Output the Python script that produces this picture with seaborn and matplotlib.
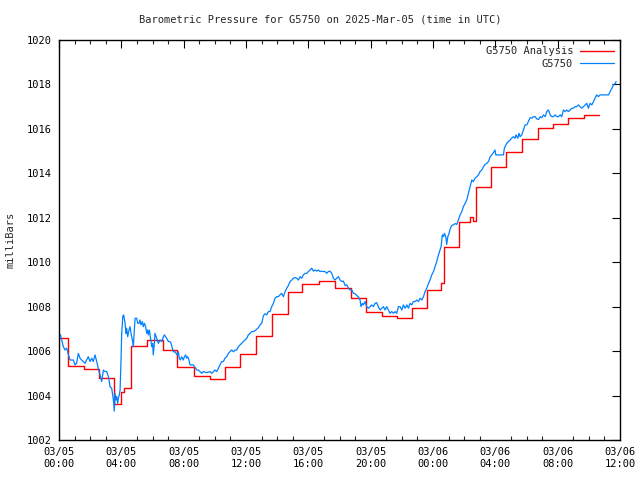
import matplotlib
matplotlib.use("Agg")
import matplotlib.pyplot as plt
import seaborn as sns
import pandas as pd

title = "Barometric Pressure for G5750 on 2025-Mar-05 (time in UTC)"
ylabel = "milliBars"
series_names = ["G5750 Analysis", "G5750"]

# x in hours since 03/05 00:00 UTC
tick_hours = [0, 4, 8, 12, 16, 20, 24, 28, 32, 36]
tick_labels = ["03/05\n00:00", "03/05\n04:00", "03/05\n08:00", "03/05\n12:00",
               "03/05\n16:00", "03/05\n20:00", "03/06\n00:00", "03/06\n04:00",
               "03/06\n08:00", "03/06\n12:00"]
y_ticks = [1002, 1004, 1006, 1008, 1010, 1012, 1014, 1016, 1018, 1020]

# Analysis (step) series
red_hours = [0.0, 0.56, 1.63, 2.59, 3.55, 3.98, 4.2, 4.62, 5.62, 6.7, 7.6, 8.68, 9.69,
             10.65, 11.62, 12.62, 13.65, 14.72, 15.6, 16.69, 17.71, 18.72, 19.71,
             20.71, 21.67, 22.64, 23.64, 24.5, 24.7, 25.69, 26.35, 26.55, 26.77,
             27.73, 28.69, 29.7, 30.76, 31.73, 32.69, 33.72, 34.68]
red_values = [1006.58, 1005.33, 1005.2, 1004.78, 1003.62, 1004.15, 1004.33, 1006.22,
              1006.49, 1006.04, 1005.27, 1004.88, 1004.73, 1005.27, 1005.86, 1006.67,
              1007.66, 1008.65, 1009.02, 1009.14, 1008.83, 1008.38, 1007.75, 1007.58,
              1007.5, 1007.93, 1008.75, 1009.05, 1010.69, 1011.8, 1012.05, 1011.85,
              1013.37, 1014.3, 1014.94, 1015.53, 1016.03, 1016.22, 1016.47, 1016.62,
              1016.62]

# Observed series
blue_hours = [
    0.00, 0.10, 0.17, 0.28, 0.39, 0.49, 0.56, 0.60, 0.71, 0.92, 1.03, 1.13, 1.24, 1.35,
    1.45, 1.56, 1.67, 1.77, 1.88, 1.99, 2.10, 2.20, 2.31, 2.42, 2.52, 2.63, 2.74, 2.85,
    2.95, 3.06, 3.17, 3.23, 3.27, 3.38, 3.49, 3.55, 3.59, 3.66, 3.70, 3.77, 3.81, 3.87,
    3.92, 3.98, 4.02, 4.09, 4.15, 4.24, 4.30, 4.34, 4.41, 4.49, 4.56, 4.62, 4.71, 4.77,
    4.81, 4.88, 4.99, 5.05, 5.13, 5.20, 5.26, 5.35, 5.41, 5.48, 5.56, 5.63, 5.69, 5.73,
    5.80, 5.86, 5.95, 6.01, 6.05, 6.12, 6.16, 6.27, 6.38, 6.48, 6.59, 6.70, 6.76, 6.91,
    7.02, 7.12, 7.19, 7.27, 7.34, 7.45, 7.51, 7.57, 7.66, 7.72, 7.79, 7.87, 7.98, 8.05,
    8.13, 8.19, 8.26, 8.34, 8.41, 8.62, 8.69, 8.77, 8.84, 8.94, 9.05, 9.16, 9.26, 9.48,
    9.69, 9.80, 9.91, 10.01, 10.12, 10.23, 10.33, 10.44, 10.55, 10.65, 10.76, 10.87,
    10.97, 11.08, 11.19, 11.30, 11.40, 11.51, 11.62, 11.72, 11.83, 11.94, 12.05, 12.15,
    12.26, 12.37, 12.47, 12.58, 12.79, 12.90, 13.01, 13.12, 13.22, 13.33, 13.44, 13.54,
    13.65, 13.76, 13.86, 13.97, 14.08, 14.18, 14.29, 14.40, 14.51, 14.61, 14.68, 14.83,
    14.94, 15.04, 15.15, 15.26, 15.36, 15.47, 15.58, 15.68, 15.79, 15.90, 16.00, 16.11,
    16.22, 16.33, 16.43, 16.54, 16.65, 16.75, 16.86, 16.97, 17.07, 17.18, 17.29, 17.39,
    17.50, 17.61, 17.71, 17.82, 17.93, 18.04, 18.14, 18.25, 18.36, 18.47, 18.57, 18.68,
    18.79, 18.89, 19.00, 19.11, 19.21, 19.32, 19.38, 19.47, 19.53, 19.64, 19.74, 19.86,
    19.96, 20.07, 20.17, 20.28, 20.39, 20.49, 20.60, 20.71, 20.82, 20.92, 21.03, 21.14,
    21.24, 21.35, 21.46, 21.57, 21.67, 21.78, 21.89, 22.00, 22.10, 22.21, 22.32, 22.42,
    22.53, 22.64, 22.74, 22.85, 22.96, 23.07, 23.17, 23.28, 23.39, 23.49, 23.60, 23.71,
    23.81, 23.92, 24.03, 24.13, 24.24, 24.35, 24.45, 24.52, 24.60, 24.67, 24.73, 24.82,
    24.88, 24.95, 25.03, 25.10, 25.20, 25.31, 25.42, 25.52, 25.63, 25.74, 25.85, 25.95,
    26.06, 26.17, 26.27, 26.38, 26.49, 26.59, 26.70, 26.81, 26.92, 27.02, 27.13, 27.24,
    27.34, 27.45, 27.56, 27.67, 27.77, 27.88, 27.98, 28.03, 28.52, 28.58, 28.73, 28.84,
    28.95, 29.05, 29.16, 29.27, 29.33, 29.44, 29.52, 29.59, 29.70, 29.80, 29.91, 30.02,
    30.12, 30.23, 30.34, 30.45, 30.55, 30.66, 30.77, 30.88, 30.98, 31.09, 31.20, 31.30,
    31.41, 31.52, 31.62, 31.73, 31.84, 31.94, 32.05, 32.16, 32.26, 32.37, 32.48, 32.58,
    32.69, 32.80, 32.91, 33.01, 33.12, 33.23, 33.33, 33.44, 33.55, 33.65, 33.76, 33.87,
    33.97, 34.08, 34.19, 34.30, 34.40, 34.51, 34.62, 34.72, 35.26, 35.37, 35.48, 35.58,
    35.69, 35.75]
blue_values = [
    1006.73, 1006.73, 1006.50, 1006.20, 1006.05, 1006.13, 1005.97, 1005.83, 1005.60,
    1005.60, 1005.38, 1005.45, 1005.90, 1005.68, 1005.60, 1005.53, 1005.45, 1005.60,
    1005.75, 1005.53, 1005.68, 1005.53, 1005.83, 1005.53, 1005.23, 1004.93, 1004.63,
    1005.15, 1005.08, 1005.08, 1004.85, 1004.63, 1004.40, 1004.33, 1003.80, 1003.30,
    1004.10, 1003.80, 1003.95, 1003.65, 1003.88, 1004.03, 1004.25, 1005.60, 1006.73,
    1007.55, 1007.63, 1007.25, 1006.80, 1007.03, 1006.65, 1006.95, 1007.10, 1006.80,
    1006.50, 1006.20, 1006.65, 1007.48, 1007.48, 1007.25, 1007.25, 1007.40, 1007.18,
    1007.33, 1007.10, 1007.25, 1007.10, 1006.80, 1006.95, 1006.73, 1006.95, 1006.65,
    1006.20, 1006.35, 1005.83, 1006.35, 1006.80, 1006.58, 1006.35, 1006.50, 1006.43,
    1006.65, 1006.73, 1006.58, 1006.43, 1006.43, 1006.35, 1006.13, 1005.97, 1005.97,
    1005.90, 1005.83, 1005.97, 1005.68, 1005.60, 1005.75, 1005.60, 1005.75, 1005.83,
    1005.68, 1005.75, 1005.60, 1005.38, 1005.38, 1005.30, 1005.23, 1005.15, 1005.15,
    1005.08, 1005.00, 1005.08, 1005.03, 1005.08, 1005.00, 1005.08, 1005.15, 1005.08,
    1005.23, 1005.38, 1005.53, 1005.53, 1005.68, 1005.75, 1005.90, 1005.97, 1006.05,
    1005.97, 1006.05, 1006.05, 1006.20, 1006.28, 1006.35, 1006.43, 1006.50, 1006.58,
    1006.73, 1006.80, 1006.88, 1006.88, 1006.92, 1007.05, 1007.18, 1007.25, 1007.60,
    1007.68, 1007.63, 1007.78, 1007.78, 1008.00, 1008.15, 1008.38, 1008.45, 1008.45,
    1008.53, 1008.60, 1008.45, 1008.68, 1008.83, 1008.90, 1009.13, 1009.20, 1009.28,
    1009.31, 1009.28, 1009.20, 1009.35, 1009.28, 1009.43, 1009.50, 1009.50, 1009.58,
    1009.65, 1009.73, 1009.60, 1009.65, 1009.60, 1009.65, 1009.58, 1009.60, 1009.58,
    1009.58, 1009.50, 1009.58, 1009.60, 1009.50, 1009.28, 1009.20, 1009.28, 1009.35,
    1009.20, 1009.13, 1009.15, 1008.95, 1008.98, 1008.83, 1008.75, 1008.75, 1008.60,
    1008.58, 1008.50, 1008.45, 1008.30, 1008.00, 1008.15, 1008.08, 1008.23, 1008.00,
    1007.93, 1008.00, 1008.08, 1008.00, 1008.15, 1008.18, 1008.00, 1007.85, 1007.93,
    1008.00, 1007.85, 1008.00, 1007.85, 1007.70, 1007.78, 1007.70, 1007.78, 1007.70,
    1008.00, 1008.00, 1007.85, 1008.08, 1007.93, 1008.08, 1007.93, 1008.15, 1008.08,
    1008.23, 1008.23, 1008.30, 1008.23, 1008.38, 1008.30, 1008.45, 1008.68, 1008.83,
    1009.05, 1009.20, 1009.43, 1009.58, 1009.80, 1010.03, 1010.33, 1010.55, 1010.70,
    1011.23, 1011.15, 1011.30, 1011.15, 1010.80, 1011.15, 1011.30, 1011.50, 1011.65,
    1011.68, 1011.74, 1011.70, 1011.90, 1012.13, 1012.28, 1012.50, 1012.65, 1012.80,
    1013.10, 1013.40, 1013.70, 1013.63, 1013.78, 1013.85, 1013.93, 1014.08, 1014.15,
    1014.30, 1014.40, 1014.45, 1014.53, 1014.75, 1014.83, 1014.93, 1015.05, 1014.83,
    1014.83, 1015.13, 1015.35, 1015.43, 1015.50, 1015.58, 1015.65, 1015.58, 1015.73,
    1015.58, 1015.80, 1015.65, 1015.73, 1015.95, 1016.18, 1016.18, 1016.33, 1016.50,
    1016.48, 1016.55, 1016.55, 1016.45, 1016.42, 1016.55, 1016.50, 1016.63, 1016.55,
    1016.78, 1016.85, 1016.63, 1016.55, 1016.55, 1016.63, 1016.55, 1016.55, 1016.63,
    1016.55, 1016.85, 1016.78, 1016.85, 1016.78, 1016.85, 1016.93, 1016.93, 1017.00,
    1017.00, 1017.08, 1017.00, 1016.93, 1017.00, 1017.08, 1017.15, 1016.93, 1017.15,
    1017.08, 1017.23, 1017.38, 1017.53, 1017.45, 1017.53, 1017.53, 1017.68, 1017.83,
    1017.98, 1018.05, 1018.13]

red_df = pd.DataFrame({"hour": red_hours, "pressure": red_values})
blue_df = pd.DataFrame({"hour": blue_hours, "pressure": blue_values})

sns.set_style("white")
plt.rcParams["font.family"] = ["DejaVu Sans Mono"]

fig = plt.figure(figsize=(6.4, 4.8), dpi=100)
ax = fig.add_axes([59 / 640, 40 / 480, 561 / 640, 400 / 480])

sns.lineplot(data=red_df, x="hour", y="pressure", ax=ax, color="#ff0000",
             linewidth=1.0, drawstyle="steps-post", estimator=None,
             label=series_names[0])
sns.lineplot(data=blue_df, x="hour", y="pressure", ax=ax, color="#0080ff",
             linewidth=0.9, estimator=None, label=series_names[1])

ax.set_xlim(0, 36)
ax.set_ylim(1002, 1020)
ax.set_xticks(tick_hours)
ax.set_xticklabels(tick_labels)
ax.set_xticks(list(range(0, 37)), minor=True)
ax.set_yticks(y_ticks)
ax.set_yticklabels([str(v) for v in y_ticks])

ax.tick_params(axis="both", which="major", direction="in", length=6, width=0.8,
               top=True, right=True, labelsize=7.5, colors="black", pad=5)
ax.tick_params(axis="x", which="minor", direction="in", length=3, width=0.8,
               top=True, bottom=True)
ax.tick_params(axis="y", which="minor", left=False, right=False)
for s in ax.spines.values():
    s.set_color("black")
    s.set_linewidth(1.0)

ax.set_xlabel("")
ax.set_ylabel(ylabel, fontsize=7.5, labelpad=8)
fig.text(0.5, 1 - 19 / 480, title, ha="center", va="center", fontsize=7.5)

leg = ax.legend(loc="upper right", frameon=False, markerfirst=False, fontsize=7.5,
                handlelength=3.2, handletextpad=0.7, labelspacing=0.25,
                borderaxespad=0.2)
for t in leg.get_texts():
    t.set_ha("right")

fig.savefig("out.png", dpi=100)
